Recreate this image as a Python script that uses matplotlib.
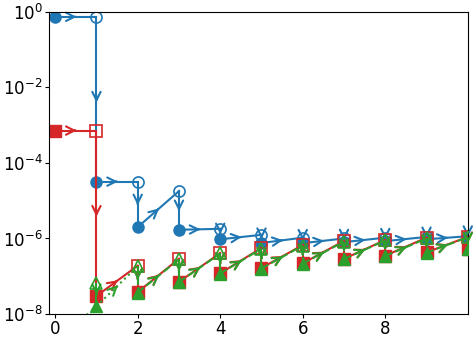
import matplotlib
matplotlib.use("Agg")
import matplotlib.pyplot as plt
import numpy as np
from matplotlib.ticker import NullLocator

# iterations
steps = np.arange(0, 11)

# blue: filled = value after step k, open = predicted value at step k (k = 1..10)
blue_filled = [0.74, 3.2e-5, 2.0e-6, 1.7e-6, 9.5e-7, 7.6e-7, 7.5e-7, 8.0e-7, 8.5e-7, 9.5e-7, 1.05e-6]
blue_open = [0.74, 3.2e-5, 1.8e-5, 1.8e-6, 1.25e-6, 1.05e-6, 1.0e-6, 1.05e-6, 1.1e-6, 1.15e-6]

red_filled = [7.2e-4, 3.0e-8, 3.8e-8, 7.1e-8, 1.2e-7, 1.66e-7, 2.2e-7, 2.9e-7, 3.5e-7, 4.3e-7, 5.3e-7]
red_open = [7.2e-4, 1.9e-7, 2.9e-7, 4.1e-7, 5.6e-7, 6.7e-7, 8.6e-7, 9.1e-7, 1.05e-6, 1.1e-6]

green_filled = [1.5e-9, 1.6e-8, 3.7e-8, 7.0e-8, 1.18e-7, 1.6e-7, 2.15e-7, 2.85e-7, 3.45e-7, 4.2e-7, 5.2e-7]
green_open = [6.6e-8, 1.85e-7, 2.8e-7, 4.0e-7, 5.4e-7, 6.5e-7, 8.3e-7, 8.9e-7, 1.0e-6, 1.08e-6]

BLUE, RED, GREEN = "#1f77b4", "#d62728", "#2ca02c"


def seg(ax, x0, y0, x1, y1, color, ls="-", z=2):
    ax.plot([x0, x1], [y0, y1], color=color, ls=ls, lw=1.5, zorder=z)
    if x0 == x1 and y0 == y1:
        return
    # arrow head at the midpoint in display (log) space
    eps = 0.02
    xm = 0.5 * (x0 + x1)
    ym = np.sqrt(y0 * y1)
    r = y1 / y0
    ax.annotate("", xy=(xm + eps * (x1 - x0), ym * r ** eps),
                xytext=(xm - eps * (x1 - x0), ym * r ** (-eps)),
                arrowprops=dict(arrowstyle="->", color=color, lw=1.5,
                                mutation_scale=15, shrinkA=0, shrinkB=0),
                zorder=z)


def path(ax, filled, opened, color, ls="-", start=0, z=2):
    # filled(k) -> open(k+1) -> filled(k+1)
    for k in range(start, len(opened)):
        seg(ax, steps[k], filled[k], steps[k + 1], opened[k], color, ls, z)
        seg(ax, steps[k + 1], opened[k], steps[k + 1], filled[k + 1], color, ls, z)


fig = plt.figure(figsize=(4.73, 3.40), dpi=100)
ax = fig.add_axes([0.1036, 0.0765, 0.8854, 0.8885])
ax.set_yscale("log")

path(ax, blue_filled, blue_open, BLUE, z=2)
ax.plot(steps, blue_filled, "o", color=BLUE, ms=8, zorder=2.2)
ax.plot(steps[1:], blue_open, "o", color=BLUE, ms=8, mfc="none", mew=1.2, zorder=2.2)

path(ax, red_filled, red_open, RED, z=2.3)
ax.plot(steps, red_filled, "s", color=RED, ms=8, zorder=2.5)
ax.plot(steps[1:], red_open, "s", color=RED, ms=8, mfc="none", mew=1.2, zorder=2.5)

# green: dotted first leg, dashed afterwards
ax.plot(steps[:2], green_filled[:2], ":", color=GREEN, lw=2, zorder=2.6)
seg(ax, steps[1], green_filled[1], steps[2], green_open[1], GREEN, ":", 2.6)
seg(ax, steps[1], green_open[0], steps[1], green_filled[1], GREEN, "--", 2.6)
seg(ax, steps[2], green_open[1], steps[2], green_filled[2], GREEN, "--", 2.6)
path(ax, green_filled, green_open, GREEN, ls="--", start=2, z=2.6)
ax.plot(steps, green_filled, "^", color=GREEN, ms=8, zorder=2.8)
ax.plot(steps[1:], green_open, "^", color=GREEN, ms=8, mfc="none", mew=1.2, zorder=2.8)

ax.set_xlim(-0.15, 10.0)
ax.set_ylim(1e-8, 1)
ax.set_xticks([0, 2, 4, 6, 8])
ax.set_yticks([1e-8, 1e-6, 1e-4, 1e-2, 1e0])
ax.yaxis.set_minor_locator(NullLocator())
ax.tick_params(labelsize=12, length=3, pad=1.5)

fig.savefig("out.png", dpi=100)
